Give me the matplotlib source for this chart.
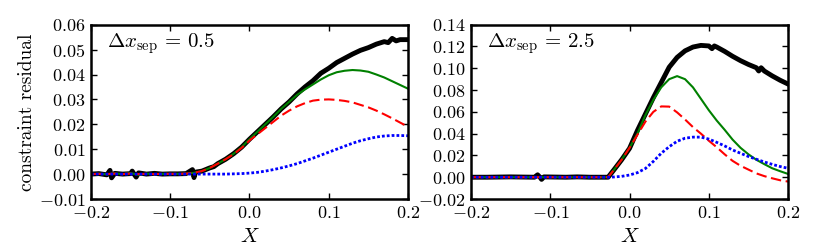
import numpy as np
import matplotlib
matplotlib.use("Agg")
import matplotlib.pyplot as plt

plt.rcParams['font.family'] = 'serif'
plt.rcParams['font.serif'] = ['cmr10', 'DejaVu Serif']
plt.rcParams['mathtext.fontset'] = 'cm'
plt.rcParams['axes.formatter.use_mathtext'] = True
plt.rcParams['axes.unicode_minus'] = True

# ---- left panel, dx_sep = 0.5 ----
xa = [-0.20, -0.19, -0.18, -0.17, -0.16, -0.15, -0.14, -0.13, -0.12, -0.11,
      -0.10, -0.09, -0.08, -0.07, -0.06, -0.05, -0.04, -0.03, -0.02, -0.01,
      0.00, 0.01, 0.02, 0.03, 0.04, 0.05, 0.06, 0.07, 0.08, 0.09,
      0.10, 0.11, 0.12, 0.13, 0.14, 0.15, 0.16, 0.17, 0.18, 0.19, 0.20]
green_a = [0.0, 0.0002, -0.0001, 0.0003, 0.0, 0.0004, -0.0003, 0.0002, 0.0, 0.0001,
           0.0001, 0.0001, 0.0002, 0.0005, 0.0012, 0.0025, 0.0042, 0.0060, 0.0082, 0.0108,
           0.0140, 0.0170, 0.0200, 0.0230, 0.0262, 0.0290, 0.0318, 0.0340, 0.0360, 0.0380,
           0.0397, 0.0409, 0.0415, 0.0418, 0.0416, 0.0411, 0.0400, 0.0388, 0.0373, 0.0358, 0.0343]
red_a = [0.0, 0.0001, 0.0, 0.0002, 0.0, 0.0002, 0.0, 0.0001, 0.0, 0.0001,
         0.0001, 0.0001, 0.0002, 0.0005, 0.0012, 0.0025, 0.0042, 0.0060, 0.0080, 0.0105,
         0.0135, 0.0160, 0.0185, 0.0210, 0.0235, 0.0255, 0.0272, 0.0285, 0.0295, 0.0299,
         0.0300, 0.0298, 0.0294, 0.0288, 0.0278, 0.0268, 0.0255, 0.0240, 0.0224, 0.0207, 0.0190]
blue_a = [0.0, 0.0, 0.0, 0.0, 0.0, 0.0, 0.0, 0.0, 0.0, 0.0,
          0.0, 0.0, 0.0, 0.0, 0.0, 0.0, 0.0, 0.0, 0.0001, 0.0002,
          0.0004, 0.0007, 0.0012, 0.0018, 0.0025, 0.0033, 0.0042, 0.0053, 0.0064, 0.0076,
          0.0088, 0.0100, 0.0112, 0.0124, 0.0134, 0.0142, 0.0149, 0.0153, 0.0155, 0.0155, 0.0154]
xa_black = [-0.200, -0.190, -0.180, -0.176, -0.174, -0.170, -0.160, -0.150, -0.148, -0.145,
            -0.143, -0.140, -0.130, -0.120, -0.110, -0.100, -0.090, -0.080, -0.072, -0.070,
            -0.068, -0.060, -0.050, -0.045, -0.040, -0.030, -0.020, -0.010, 0.000, 0.010,
            0.020, 0.030, 0.040, 0.050, 0.060, 0.070, 0.080, 0.090, 0.100, 0.110,
            0.120, 0.130, 0.140, 0.150, 0.160, 0.170, 0.175, 0.180, 0.185, 0.190, 0.200]
black_a = [0.0000, 0.0002, -0.0003, 0.0015, -0.0015, 0.0003, 0.0000, 0.0002, 0.0012, -0.0003,
           -0.0012, 0.0005, 0.0000, 0.0003, 0.0000, 0.0001, 0.0001, 0.0002, 0.0018, -0.0014,
           0.0008, 0.0012, 0.0025, 0.0030, 0.0042, 0.0060, 0.0082, 0.0108, 0.0140, 0.0170,
           0.0200, 0.0230, 0.0262, 0.0290, 0.0322, 0.0350, 0.0375, 0.0405, 0.0425, 0.0448,
           0.0465, 0.0482, 0.0497, 0.0508, 0.0522, 0.0532, 0.0528, 0.0545, 0.0535, 0.0540, 0.0540]

# ---- right panel, dx_sep = 2.5 ----
xb = [-0.20, -0.15, -0.10, -0.05, -0.027, -0.02, -0.01,
      0.00, 0.01, 0.02, 0.03, 0.04, 0.05, 0.06, 0.07, 0.08, 0.09,
      0.10, 0.11, 0.12, 0.13, 0.14, 0.15, 0.16, 0.17, 0.18, 0.19, 0.20]
green_b = [0.0, 0.0, 0.0, 0.0, 0.0, 0.0065, 0.016,
           0.027, 0.040, 0.057, 0.071, 0.0825, 0.0900, 0.0928, 0.0900, 0.0825, 0.0720,
           0.0615, 0.0520, 0.0435, 0.0345, 0.0270, 0.0210, 0.0160, 0.0120, 0.0082, 0.0055, 0.0030]
red_b = [0.0, 0.0, 0.0, 0.0, 0.0, 0.0065, 0.016,
         0.027, 0.039, 0.051, 0.060, 0.0650, 0.0648, 0.0595, 0.0530, 0.0460, 0.0400,
         0.0335, 0.0275, 0.0210, 0.0150, 0.0105, 0.0070, 0.0035, 0.0010, -0.0010, -0.0028, -0.0040]
blue_b = [0.0, 0.0, 0.0, 0.0, 0.0, 0.0002, 0.0008,
          0.0020, 0.0042, 0.0080, 0.0145, 0.0220, 0.0280, 0.0330, 0.0358, 0.0368, 0.0368,
          0.0350, 0.0320, 0.0287, 0.0250, 0.0220, 0.0190, 0.0165, 0.0140, 0.0118, 0.0098, 0.0082]
xb_black = [-0.200, -0.180, -0.150, -0.120, -0.116, -0.113, -0.111, -0.108, -0.080, -0.066,
            -0.050, -0.027, -0.020, -0.010, 0.000, 0.010, 0.020, 0.030, 0.040, 0.050,
            0.060, 0.070, 0.080, 0.090, 0.100, 0.104, 0.107, 0.110, 0.120, 0.130,
            0.140, 0.150, 0.160, 0.163, 0.166, 0.170, 0.180, 0.190, 0.200]
black_b = [0.0, 0.0, 0.0003, 0.0, 0.0022, 0.0, -0.0020, 0.0003, 0.0, 0.0003,
           0.0, 0.0, 0.0065, 0.016, 0.0265, 0.043, 0.058, 0.073, 0.087, 0.101,
           0.110, 0.116, 0.1195, 0.121, 0.1205, 0.118, 0.1205, 0.1195, 0.1155, 0.111,
           0.107, 0.1035, 0.1005, 0.0975, 0.1005, 0.0975, 0.093, 0.089, 0.0855]

panels = [
    (xa, xa_black, black_a, green_a, red_a, blue_a, r'$\Delta x_{\rm sep}\,=\,0.5$',
     (-0.01, 0.06), np.arange(-0.01, 0.0601, 0.01)),
    (xb, xb_black, black_b, green_b, red_b, blue_b, r'$\Delta x_{\rm sep}\,=\,2.5$',
     (-0.02, 0.14), np.arange(-0.02, 0.1401, 0.02)),
]

fig = plt.figure(figsize=(8.3, 2.49), dpi=100)
lefts = [0.1096, 0.5675]

for i, (x, xk, k, g, r, b, label, ylim, yt) in enumerate(panels):
    ax = fig.add_axes([lefts[i], 0.2008, 0.382, 0.700])
    ax.plot(xk, k, color='k', lw=3.5)
    ax.plot(x, g, color='g', lw=1.5)
    ax.plot(x, r, color='r', lw=1.5, ls='--', dashes=(5, 2.2))
    ax.plot(x, b, color='b', lw=2.0, ls=':', dashes=(1, 0.75))
    ax.set_xlim(-0.2, 0.2)
    ax.set_ylim(*ylim)
    ax.set_xticks([-0.2, -0.1, 0.0, 0.1, 0.2])
    ax.set_xticklabels(['$-0.2$', '$-0.1$', '$0.0$', '$0.1$', '$0.2$'])
    ax.set_yticks(yt)
    ax.set_yticklabels(['$%.2f$' % v if v > -0.001 else '$-%.2f$' % abs(v) for v in yt])
    ax.tick_params(direction='in', top=True, right=True, length=4, width=1, labelsize=13, pad=4)
    for s in ax.spines.values():
        s.set_linewidth(1.8)
    ax.text(0.05, 0.89, label, transform=ax.transAxes, fontsize=15, va='center')
    ax.set_xlabel('$X$', fontsize=15, labelpad=5)
    if i == 0:
        ax.set_ylabel('constraint residual', fontsize=14, labelpad=2)

fig.savefig('out.png', dpi=100)
